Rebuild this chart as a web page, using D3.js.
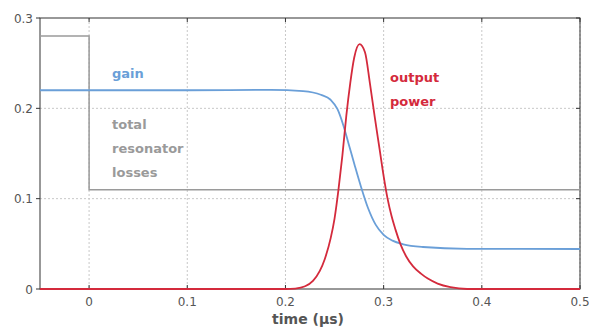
<!DOCTYPE html>
<html>
<head>
<meta charset="utf-8">
<script src="https://cdn.jsdelivr.net/npm/d3@7"></script>
<style>
  body { margin: 0; background: #fff; }
  svg { display: block; font-family: "DejaVu Sans", Verdana, sans-serif; }
</style>
</head>
<body>
<svg id="chart" width="589" height="329"></svg>
<script>
const xTicks = [0, 0.1, 0.2, 0.3, 0.4, 0.5];
const yTicks = [0, 0.1, 0.2, 0.3];

// total resonator losses (step at t = 0)
const lossT = [-0.05, 0, 0, 0.5];
const lossV = [0.28, 0.28, 0.11, 0.11];

// gain
const gainT = [-0.05, 0.1, 0.185, 0.218, 0.236, 0.246, 0.253, 0.259, 0.264, 0.27, 0.277, 0.284, 0.292, 0.3, 0.309, 0.32, 0.34, 0.385, 0.5];
const gainV = [0.22, 0.22, 0.2205, 0.219, 0.215, 0.2095, 0.199, 0.181, 0.162, 0.139, 0.113, 0.09, 0.071, 0.06, 0.0535, 0.0495, 0.0465, 0.0445, 0.0443];

// output power
const powT = [-0.05, 0.2, 0.21, 0.22, 0.228, 0.235, 0.24, 0.246, 0.25, 0.254, 0.258, 0.262, 0.266, 0.27, 0.2755, 0.281, 0.286, 0.291, 0.296, 0.3, 0.304, 0.308, 0.312, 0.317, 0.323, 0.33, 0.338, 0.345, 0.355, 0.368, 0.385, 0.5];
const powV = [0, 0, 0.0005, 0.003, 0.009, 0.02, 0.033, 0.056, 0.078, 0.11, 0.148, 0.192, 0.228, 0.256, 0.271, 0.262, 0.228, 0.19, 0.154, 0.125, 0.1, 0.081, 0.066, 0.05, 0.036, 0.025, 0.017, 0.0115, 0.006, 0.002, 0, 0];

const svg = d3.select('#chart');
const m = { left: 40, right: 9, top: 18, bottom: 40 };
const W = 589, H = 329;

const x = d3.scaleLinear().domain([-0.05, 0.5]).range([m.left, W - m.right]);
const y = d3.scaleLinear().domain([0, 0.3]).range([H - m.bottom, m.top]);

// grid
svg.append('g').selectAll('line').data(xTicks).join('line')
  .attr('x1', d => x(d)).attr('x2', d => x(d))
  .attr('y1', y(0.3)).attr('y2', y(0))
  .attr('stroke', '#c8c8c8').attr('stroke-dasharray', '2,2');
svg.append('g').selectAll('line').data(yTicks.filter(d => d > 0 && d < 0.3)).join('line')
  .attr('x1', x(-0.05)).attr('x2', x(0.5))
  .attr('y1', d => y(d)).attr('y2', d => y(d))
  .attr('stroke', '#c8c8c8').attr('stroke-dasharray', '2,2');

// frame
svg.append('rect')
  .attr('x', x(-0.05)).attr('y', y(0.3))
  .attr('width', x(0.5) - x(-0.05)).attr('height', y(0) - y(0.3))
  .attr('fill', 'none').attr('stroke', '#333').attr('stroke-width', 1);

// ticks
const tk = svg.append('g').attr('stroke', '#333');
xTicks.forEach(d => {
  tk.append('line').attr('x1', x(d)).attr('x2', x(d)).attr('y1', y(0)).attr('y2', y(0) - 4);
  tk.append('line').attr('x1', x(d)).attr('x2', x(d)).attr('y1', y(0.3)).attr('y2', y(0.3) + 4);
});
yTicks.forEach(d => {
  tk.append('line').attr('x1', x(-0.05) - 4).attr('x2', x(-0.05)).attr('y1', y(d)).attr('y2', y(d));
  tk.append('line').attr('x1', x(0.5) - 4).attr('x2', x(0.5)).attr('y1', y(d)).attr('y2', y(d));
});

// tick labels
svg.append('g').selectAll('text').data(xTicks).join('text')
  .attr('x', d => x(d)).attr('y', y(0) + 17)
  .attr('text-anchor', 'middle').attr('font-size', 12).attr('fill', '#555')
  .text(d => d3.format('~g')(d));
svg.append('g').selectAll('text').data(yTicks).join('text')
  .attr('x', x(-0.05) - 7).attr('y', d => y(d) + 4.5)
  .attr('text-anchor', 'end').attr('font-size', 12).attr('fill', '#555')
  .text(d => d3.format('~g')(d));

svg.append('text')
  .attr('x', (x(-0.05) + x(0.5)) / 2 - 2).attr('y', 324)
  .attr('text-anchor', 'middle').attr('font-size', 14).attr('font-weight', 'bold').attr('fill', '#555')
  .text('time (μs)');

// series
const line = d3.line().x(d => x(d[0])).y(d => y(d[1]));
const smooth = d3.line().x(d => x(d[0])).y(d => y(d[1])).curve(d3.curveMonotoneX);

svg.append('path').datum(d3.zip(lossT, lossV))
  .attr('d', line).attr('fill', 'none').attr('stroke', '#9a9a9a').attr('stroke-width', 1.5);
svg.append('path').datum(d3.zip(gainT, gainV))
  .attr('d', smooth).attr('fill', 'none').attr('stroke', '#6a9fd8').attr('stroke-width', 1.8);
svg.append('path').datum(d3.zip(powT, powV))
  .attr('d', smooth).attr('fill', 'none').attr('stroke', '#d42a3c').attr('stroke-width', 1.8);

// labels
const lab = (txt, tx, ty, col) => svg.append('text')
  .attr('x', tx).attr('y', ty).attr('font-size', 13).attr('font-weight', 'bold')
  .attr('fill', col).text(txt);
lab('gain', 112, 78, '#6a9fd8');
lab('total', 112, 129, '#9a9a9a');
lab('resonator', 112, 153, '#9a9a9a');
lab('losses', 112, 177, '#9a9a9a');
lab('output', 390, 82, '#d42a3c');
lab('power', 390, 106, '#d42a3c');
</script>
</body>
</html>
